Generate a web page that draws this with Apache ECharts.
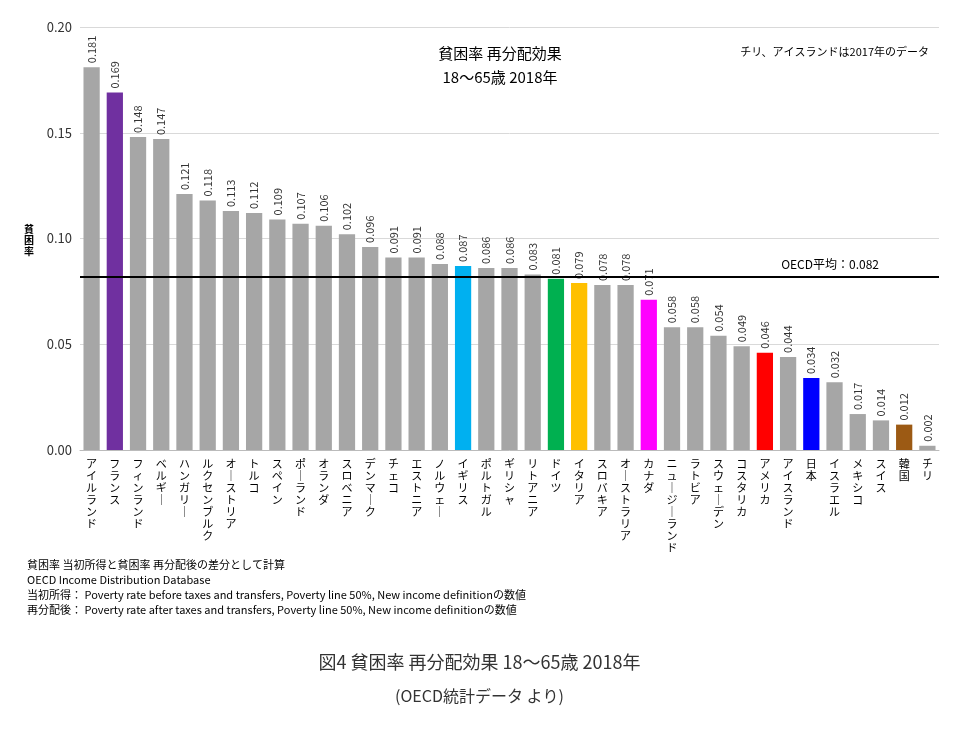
<!DOCTYPE html><html><head><meta charset="utf-8"><script src="https://cdn.jsdelivr.net/npm/echarts@6/dist/echarts.min.js"></script>
<style>body{margin:0;background:#fff}#c{width:959px;height:738px}</style></head><body><div id="c"></div><script>
const categories=["アイルランド","フランス","フィンランド","ベルギー","ハンガリー","ルクセンブルク","オーストリア","トルコ","スペイン","ポーランド","オランダ","スロベニア","デンマーク","チェコ","エストニア","ノルウェー","イギリス","ポルトガル","ギリシャ","リトアニア","ドイツ","イタリア","スロバキア","オーストラリア","カナダ","ニュージーランド","ラトビア","スウェーデン","コスタリカ","アメリカ","アイスランド","日本","イスラエル","メキシコ","スイス","韓国","チリ"];
const values=[0.181,0.169,0.148,0.147,0.121,0.118,0.113,0.112,0.109,0.107,0.106,0.102,0.096,0.091,0.091,0.088,0.087,0.086,0.086,0.083,0.081,0.079,0.078,0.078,0.071,0.058,0.058,0.054,0.049,0.046,0.044,0.034,0.032,0.017,0.014,0.012,0.002];
const highlight={"フランス":"#7030a0","イギリス":"#00b0f0","ドイツ":"#00b050","イタリア":"#ffc000","カナダ":"#ff00ff","アメリカ":"#ff0000","日本":"#0000ff","韓国":"#9c5a14"};
const yTicks=[0,0.05,0.10,0.15,0.20];
const oecdAvg=0.082;
const ch=echarts.init(document.getElementById('c'));
const F='"Noto Sans CJK JP","Noto Sans",sans-serif';
ch.setOption({
animation:false,
textStyle:{fontFamily:F},
grid:{left:80,right:20,top:27,bottom:288},
title:[
{text:"貧困率 再分配効果\n18〜65歳 2018年",left:495,top:36,textAlign:'center',textStyle:{fontSize:15,fontWeight:'normal',color:'#000',lineHeight:24,fontFamily:F}},
{text:"チリ、アイスランドは2017年のデータ",right:25,top:41,textStyle:{fontSize:11,fontWeight:'normal',color:'#000',fontFamily:F}}
],
graphic:[
{type:'text',left:24,top:224,style:{text:"貧\n困\n率",font:'bold 10px '+F,fill:'#000',lineHeight:11}},
{type:'text',left:27,top:557,style:{text:"貧困率 当初所得と貧困率 再分配後の差分として計算\nOECD Income Distribution Database\n当初所得： Poverty rate before taxes and transfers, Poverty line 50%, New income definitionの数値\n再分配後： Poverty rate after taxes and transfers, Poverty line 50%, New income definitionの数値",font:'11px '+F,fill:'#000',lineHeight:15}},
{type:'text',left:'center',top:653,style:{text:"図4 貧困率 再分配効果 18〜65歳 2018年",font:'18px '+F,fill:'#333'}},
{type:'text',left:'center',top:688,style:{text:"(OECD統計データ より)",font:'16px '+F,fill:'#333'}}
],
xAxis:{type:'category',data:categories,axisTick:{show:false},axisLine:{lineStyle:{color:'#bbb'}},
 axisLabel:{interval:0,color:'#000',fontSize:11,lineHeight:12,verticalAlign:'top',
 formatter:v=>v.replace(/ー/g,'｜').split('').join('\n')}},
yAxis:{type:'value',min:0,max:0.2,interval:0.05,axisLine:{show:false},axisTick:{show:false},
 axisLabel:{color:'#333',fontSize:13,formatter:v=>v.toFixed(2)},splitLine:{lineStyle:{color:'#d9d9d9'}}},
series:[{type:'bar',barCategoryGap:'30%',
 data:values.map((v,i)=>({value:v,itemStyle:{color:highlight[categories[i]]||'#a6a6a6'}})),
 label:{show:true,position:'top',rotate:90,align:'left',verticalAlign:'middle',distance:4,fontSize:11,color:'#333',formatter:p=>p.value.toFixed(3)},
 markLine:{silent:true,symbol:'none',precision:3,data:[{yAxis:oecdAvg}],lineStyle:{color:'#000',width:2,type:'solid'},
  label:{position:'insideEndTop',formatter:'OECD平均：0.082',color:'#000',fontSize:12,distance:[60,6]}}
}]
});
</script></body></html>
